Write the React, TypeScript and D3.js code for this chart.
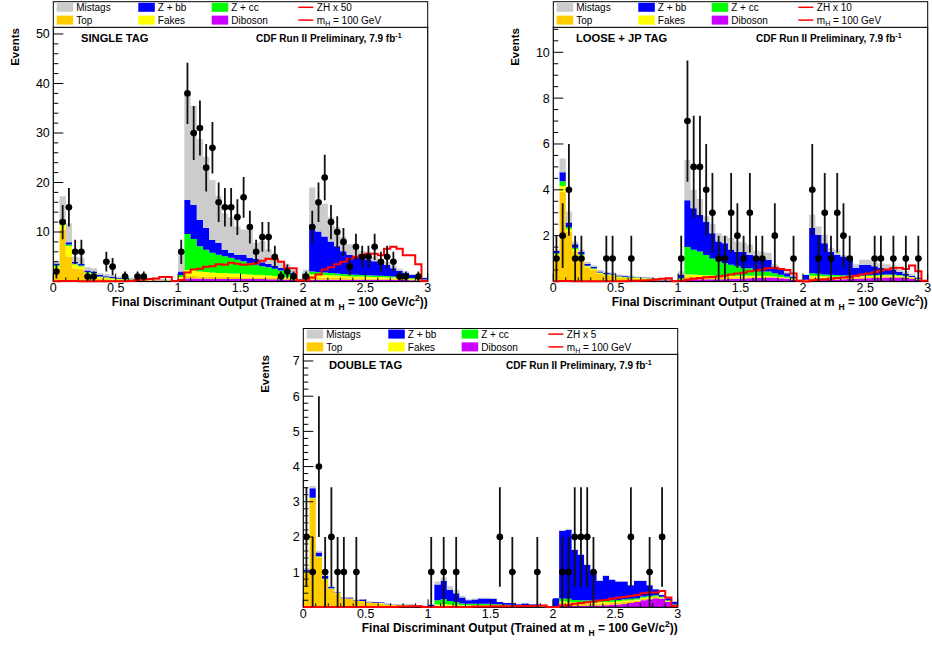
import React from "react";
import * as d3 from "d3";

const FONT = "'Liberation Sans', Arial, Helvetica, sans-serif";

// 60 bins of width 0.05 across the discriminant output 0-3
const N_BINS = 60;
const X_DOMAIN: [number, number] = [0, 3];
const X_MAJOR_TICKS = [0, 0.5, 1, 1.5, 2, 2.5, 3];
const X_TICK_LABELS = ["0", "0.5", "1", "1.5", "2", "2.5", "3"];

// Stack order, bottom to top
const PROCESSES = ["Diboson", "Top", "Fakes", "Z + cc", "Z + bb", "Mistags"];
const PROCESS_COLORS = ["#cc00ff", "#ffcc00", "#ffff00", "#00ff00", "#0000ff", "#cccccc"];
const SIGNAL_COLOR = "#ff0000";

// ---------------- SINGLE TAG ----------------
const singleDiboson = [
  0.05, 0.05, 0.05, 0.05, 0.05, 0.05, 0.05, 0.05, 0.05, 0.05, 0.05, 0.05, 0.08, 0.1, 0.12, 0.15, 0.2, 0.2, 0.15, 0.05,
  0.3, 0.6, 0.6, 0.55, 0.55, 0.5, 0.5, 0.5, 0.5, 0.5, 0.5, 0.5, 0.5, 0.5, 0.45, 0.45, 0.4, 0.4, 0.3, 0.1,
  0.2, 0.35, 0.35, 0.35, 0.35, 0.35, 0.35, 0.35, 0.35, 0.35, 0.35, 0.35, 0.35, 0.35, 0.35, 0.3, 0.3, 0.25, 0.2, 0.15,
];
const singleTop = [
  2.5, 10.4, 5.0, 2.6, 2.4, 1.3, 1.1, 0.55, 0.45, 0.35, 0.25, 0.2, 0.15, 0.12, 0.1, 0.08, 0.05, 0.05, 0.04, 0.02,
  0.3, 0.5, 0.5, 0.45, 0.45, 0.4, 0.4, 0.4, 0.4, 0.4, 0.3, 0.3, 0.3, 0.3, 0.25, 0.25, 0.2, 0.2, 0.2, 0.05,
  0.15, 0.45, 0.45, 0.4, 0.4, 0.35, 0.35, 0.3, 0.3, 0.3, 0.25, 0.25, 0.25, 0.25, 0.2, 0.2, 0.15, 0.15, 0.15, 0.1,
];
const singleFakes = [
  0.5, 1.0, 2.1, 0.8, 0.6, 0.4, 0.4, 0.3, 0.25, 0.22, 0.2, 0.18, 0.15, 0.12, 0.1, 0.1, 0.08, 0.07, 0.06, 0.02,
  0.3, 1.2, 1.2, 1.0, 0.9, 0.9, 0.8, 0.8, 0.7, 0.7, 0.7, 0.6, 0.5, 0.5, 0.5, 0.4, 0.4, 0.3, 0.2, 0.05,
  0.1, 0.6, 0.55, 0.55, 0.5, 0.5, 0.4, 0.4, 0.35, 0.35, 0.35, 0.3, 0.3, 0.25, 0.25, 0.2, 0.15, 0.15, 0.15, 0.1,
];
const singleZcc = [
  0.3, 0.4, 0.3, 0.2, 0.2, 0.15, 0.15, 0.1, 0.1, 0.1, 0.08, 0.07, 0.07, 0.06, 0.05, 0.05, 0.04, 0.04, 0.03, 0.01,
  0.4, 7.3, 6.3, 5.1, 4.5, 4.0, 3.7, 3.4, 3.2, 2.8, 2.6, 2.3, 2.1, 1.8, 1.7, 1.5, 1.2, 0.8, 0.6, 0.15,
  0.15, 0.6, 0.55, 0.5, 0.45, 0.4, 0.4, 0.35, 0.35, 0.3, 0.3, 0.3, 0.25, 0.25, 0.2, 0.2, 0.2, 0.15, 0.1, 0.05,
];
const singleZbb = [
  0.3, 0.6, 0.5, 0.3, 0.3, 0.3, 0.3, 0.3, 0.2, 0.2, 0.15, 0.15, 0.12, 0.1, 0.08, 0.07, 0.05, 0.05, 0.04, 0.02,
  0.7, 6.9, 6.9, 5.3, 4.4, 2.6, 2.4, 1.3, 1.0, 1.0, 1.3, 1.1, 1.2, 0.8, 0.7, 0.6, 0.6, 0.5, 0.4, 0.1,
  0.7, 9.5, 8.2, 7.3, 6.4, 5.5, 4.6, 4.0, 3.75, 3.4, 3.15, 2.9, 2.55, 2.3, 1.7, 1.2, 0.9, 0.6, 0.4, 0.3,
];
const singleMistags = [
  0.55, 4.75, 3.75, 1.05, 1.25, 0.7, 0.7, 0.4, 0.45, 0.38, 0.27, 0.25, 0.23, 0.2, 0.15, 0.15, 0.08, 0.09, 0.08, 0.03,
  3.5, 21.2, 20.0, 16.4, 14.4, 12.1, 9.4, 7.4, 7.2, 5.7, 5.1, 5.6, 3.2, 4.3, 2.9, 2.3, 1.4, 1.4, 0.7, 0.15,
  1.1, 7.5, 5.9, 6.6, 4.9, 3.9, 2.9, 2.1, 1.4, 1.5, 1.6, 0.9, 0.8, 0.6, 0.5, 0.5, 0.3, 0.2, 0.2, 0.1,
];
const singleSignal = [
  0.05, 0.1, 0.1, 0.08, 0.05, 0.05, 0.05, 0.05, 0.05, 0.05, 0.05, 0.05, 0.1, 0.3, 0.4, 0.5, 0.6, 0.9, 0.9, 0.1,
  0.3, 1.8, 2.4, 2.6, 3.0, 3.1, 3.5, 3.4, 3.8, 3.6, 3.4, 3.5, 3.7, 4.2, 4.6, 4.5, 4.0, 2.7, 2.7, 0.2,
  0.2, 0.8, 1.4, 2.4, 2.9, 3.5, 4.0, 4.6, 5.0, 5.3, 5.6, 5.6, 5.3, 6.6, 7.0, 6.6, 5.3, 5.3, 3.5, 0.1,
];
const singleData = [
  2, 12, 15, 6, 6, 1, 1, 0, 4, 3, 0, 1, 0, 1, 1, 0, 0, 0, 0, 0,
  6, 38, 30, 31, 23, 27, 16, 15, 15, 13, 17, 11, 6, 9, 9, 5, 1, 2, 1, 0,
  1, 11, 16, 21, 12, 10, 8, 3, 7, 5, 5, 7, 4, 5, 4, 1, 1, 0, 1, 0,
];
const singleYTicks = [10, 20, 30, 40, 50];

// ---------------- LOOSE + JP TAG ----------------
const looseDiboson = [
  0.01, 0.02, 0.02, 0.01, 0.01, 0.01, 0.01, 0.01, 0.01, 0.01, 0.01, 0.01, 0.02, 0.03, 0.04, 0.05, 0.06, 0.06, 0.05, 0.02,
  0.04, 0.1, 0.1, 0.1, 0.1, 0.1, 0.1, 0.1, 0.11, 0.12, 0.13, 0.14, 0.15, 0.16, 0.17, 0.16, 0.14, 0.12, 0.08, 0.02,
  0.03, 0.07, 0.07, 0.08, 0.08, 0.09, 0.1, 0.11, 0.12, 0.13, 0.14, 0.15, 0.16, 0.17, 0.17, 0.17, 0.15, 0.12, 0.07, 0.02,
];
const looseTop = [
  1.1, 3.9, 2.15, 1.3, 1.05, 0.6, 0.5, 0.33, 0.27, 0.25, 0.18, 0.16, 0.13, 0.1, 0.08, 0.06, 0.04, 0.04, 0.03, 0.01,
  0.03, 0.1, 0.1, 0.09, 0.09, 0.09, 0.08, 0.08, 0.07, 0.06, 0.05, 0.04, 0.04, 0.04, 0.03, 0.03, 0.03, 0.02, 0.02, 0.01,
  0.02, 0.11, 0.1, 0.09, 0.09, 0.08, 0.07, 0.07, 0.06, 0.06, 0.06, 0.06, 0.06, 0.06, 0.06, 0.05, 0.05, 0.04, 0.02, 0.01,
];
const looseFakes = [
  0.08, 0.25, 0.12, 0.1, 0.08, 0.05, 0.04, 0.03, 0.03, 0.03, 0.02, 0.02, 0.02, 0.02, 0.02, 0.02, 0.01, 0.01, 0.01, 0,
  0.03, 0.1, 0.1, 0.09, 0.08, 0.07, 0.07, 0.07, 0.07, 0.07, 0.07, 0.07, 0.06, 0.05, 0.04, 0.03, 0.03, 0.02, 0.02, 0.01,
  0.01, 0.07, 0.07, 0.06, 0.05, 0.05, 0.05, 0.04, 0.04, 0.04, 0.04, 0.04, 0.04, 0.04, 0.04, 0.03, 0.02, 0.02, 0.01, 0,
];
const looseZcc = [
  0.04, 0.2, 0.08, 0.06, 0.05, 0.03, 0.03, 0.02, 0.02, 0.02, 0.02, 0.02, 0.02, 0.02, 0.01, 0.01, 0.01, 0.01, 0.01, 0,
  0.05, 1.2, 1.08, 1.03, 0.89, 0.74, 0.62, 0.55, 0.48, 0.41, 0.33, 0.33, 0.25, 0.19, 0.2, 0.14, 0.09, 0.06, 0.03, 0.01,
  0.02, 0.11, 0.1, 0.07, 0.07, 0.06, 0.05, 0.04, 0.03, 0.03, 0.03, 0.03, 0.03, 0.03, 0.03, 0.03, 0.03, 0.02, 0.02, 0.01,
];
const looseZbb = [
  0.1, 0.4, 0.2, 0.15, 0.11, 0.07, 0.06, 0.05, 0.04, 0.04, 0.03, 0.03, 0.03, 0.02, 0.02, 0.02, 0.01, 0.01, 0.01, 0.01,
  0.15, 2.05, 1.82, 1.59, 1.44, 1.1, 0.88, 0.87, 0.67, 0.64, 0.72, 0.58, 0.6, 0.56, 0.51, 0.24, 0.21, 0.14, 0.07, 0.02,
  0.2, 1.97, 1.7, 1.37, 1.01, 0.88, 0.82, 0.76, 0.35, 0.47, 0.46, 0.38, 0.31, 0.25, 0.2, 0.14, 0.08, 0.05, 0.03, 0.02,
];
const looseMistags = [
  0.07, 0.6, 0.48, 0.13, 0.1, 0.09, 0.06, 0.06, 0.05, 0.05, 0.04, 0.04, 0.03, 0.03, 0.03, 0.02, 0.02, 0.02, 0.01, 0.01,
  0.15, 1.75, 0.8, 0.7, 0.25, 0.4, 0.35, 0.33, 0.5, 0.45, 0.4, 0.44, 0.25, 0.3, 0.3, 0.15, 0.1, 0.09, 0.03, 0.03,
  0.02, 0.58, 0.36, 0.37, 0.16, 0.22, 0.07, 0.07, 0.15, 0.22, 0.22, 0.21, 0.2, 0.2, 0.2, 0.18, 0.12, 0.1, 0.05, 0.02,
];
const looseSignal = [
  0.01, 0.02, 0.02, 0.01, 0.01, 0.01, 0.01, 0.01, 0.01, 0.01, 0.01, 0.01, 0.02, 0.03, 0.04, 0.06, 0.09, 0.12, 0.14, 0.01,
  0.03, 0.08, 0.12, 0.15, 0.18, 0.2, 0.22, 0.25, 0.3, 0.35, 0.38, 0.45, 0.48, 0.52, 0.58, 0.6, 0.55, 0.5, 0.35, 0.03,
  0, 0.05, 0.08, 0.1, 0.12, 0.15, 0.17, 0.2, 0.25, 0.3, 0.35, 0.4, 0.48, 0.52, 0.58, 0.6, 0.55, 0.7, 0.45, 0.03,
];
const looseData = [
  1, 2, 4, 1, 1, 0, 0, 0, 1, 1, 0, 0, 1, 0, 0, 0, 0, 0, 0, 0,
  1, 7, 5, 5, 4, 3, 1, 1, 3, 2, 1, 3, 1, 1, 0, 2, 0, 0, 1, 0,
  0, 4, 1, 3, 1, 3, 2, 1, 0, 0, 0, 1, 1, 0, 1, 0, 1, 0, 1, 0,
];
const looseYTicks = [2, 4, 6, 8, 10];

// ---------------- DOUBLE TAG ----------------
const doubleDiboson = [
  0, 0, 0, 0, 0, 0, 0, 0, 0, 0, 0, 0, 0.01, 0.01, 0.01, 0.02, 0.02, 0.02, 0.02, 0.01,
  0.01, 0.02, 0.02, 0.02, 0.02, 0.02, 0.02, 0.02, 0.02, 0.02, 0.02, 0.02, 0.02, 0.02, 0.02, 0.02, 0.02, 0.02, 0.01, 0,
  0.01, 0.04, 0.04, 0.04, 0.04, 0.05, 0.05, 0.05, 0.06, 0.07, 0.08, 0.1, 0.12, 0.15, 0.2, 0.23, 0.26, 0.24, 0.15, 0.05,
];
const doubleTop = [
  1.0, 3.08, 1.42, 0.79, 0.52, 0.4, 0.25, 0.24, 0.18, 0.17, 0.13, 0.12, 0.1, 0.07, 0.05, 0.04, 0.04, 0.03, 0.02, 0.01,
  0.01, 0.03, 0.03, 0.03, 0.02, 0.02, 0.02, 0.02, 0.02, 0.02, 0.02, 0.02, 0.02, 0.02, 0.01, 0.01, 0.01, 0.01, 0.01, 0,
  0.01, 0.08, 0.07, 0.06, 0.06, 0.05, 0.05, 0.05, 0.05, 0.05, 0.05, 0.05, 0.05, 0.04, 0.04, 0.03, 0.03, 0.02, 0.02, 0.01,
];
const doubleFakes = [
  0.01, 0.02, 0.02, 0.01, 0.01, 0.01, 0.01, 0.01, 0.01, 0.01, 0.01, 0.01, 0.01, 0.01, 0.01, 0.01, 0.01, 0.01, 0.01, 0,
  0.01, 0.03, 0.04, 0.03, 0.03, 0.02, 0.02, 0.02, 0.02, 0.02, 0.02, 0.02, 0.01, 0.01, 0.01, 0.01, 0.01, 0.01, 0.01, 0,
  0.01, 0.05, 0.05, 0.04, 0.04, 0.04, 0.04, 0.04, 0.04, 0.04, 0.04, 0.04, 0.03, 0.03, 0.03, 0.03, 0.02, 0.02, 0.01, 0.01,
];
const doubleZcc = [
  0.01, 0.01, 0.01, 0.01, 0.01, 0, 0, 0, 0, 0, 0, 0, 0, 0, 0, 0, 0, 0, 0, 0,
  0.01, 0.12, 0.14, 0.1, 0.08, 0.05, 0.04, 0.04, 0.04, 0.04, 0.03, 0.03, 0.02, 0.02, 0.02, 0.02, 0.02, 0.01, 0.01, 0,
  0.01, 0.08, 0.08, 0.07, 0.06, 0.06, 0.05, 0.05, 0.05, 0.05, 0.04, 0.04, 0.04, 0.04, 0.04, 0.04, 0.03, 0.02, 0.02, 0.01,
];
const doubleZbb = [
  0.05, 0.27, 0.11, 0.08, 0.04, 0.02, 0.02, 0.03, 0.02, 0.04, 0.02, 0.02, 0.02, 0.01, 0.01, 0.01, 0.01, 0.01, 0.01, 0,
  0.03, 0.45, 0.52, 0.32, 0.25, 0.17, 0.1, 0.12, 0.15, 0.15, 0.15, 0.06, 0.05, 0.05, 0.03, 0.05, 0.03, 0.04, 0.01, 0.01,
  0.22, 1.92, 1.96, 1.42, 1.29, 1.0, 0.81, 0.56, 0.69, 0.57, 0.52, 0.5, 0.39, 0.49, 0.44, 0.3, 0.17, 0.05, 0.06, 0.08,
];
const doubleMistags = [
  0.05, 0.07, 0.05, 0.05, 0.03, 0.01, 0.01, 0.01, 0.01, 0.01, 0.01, 0.01, 0.01, 0.01, 0, 0, 0, 0, 0, 0,
  0, 0.08, 0.1, 0.1, 0.1, 0.05, 0.03, 0.03, 0.02, 0.02, 0.02, 0.01, 0.01, 0.01, 0.01, 0.01, 0.01, 0.01, 0, 0,
  0, 0.03, 0.03, 0.02, 0.02, 0.02, 0.02, 0.02, 0.02, 0.02, 0.02, 0.02, 0.01, 0.01, 0.01, 0.01, 0.01, 0.01, 0.01, 0,
];
const doubleSignal = [
  0.01, 0.01, 0.01, 0.01, 0.01, 0.01, 0.01, 0.01, 0.01, 0.01, 0.01, 0.01, 0.01, 0.01, 0.01, 0.02, 0.02, 0.03, 0.03, 0.01,
  0.01, 0.01, 0.01, 0.01, 0.01, 0.01, 0.01, 0.02, 0.02, 0.02, 0.03, 0.03, 0.03, 0.03, 0.04, 0.04, 0.04, 0.04, 0.05, 0.01,
  0.01, 0.05, 0.06, 0.1, 0.12, 0.14, 0.16, 0.19, 0.21, 0.24, 0.27, 0.29, 0.32, 0.35, 0.4, 0.42, 0.42, 0.46, 0.28, 0.04,
];
const doubleData = [
  2, 1, 4, 1, 2, 1, 1, 0, 1, 0, 0, 0, 0, 0, 0, 0, 0, 0, 0, 0,
  1, 0, 1, 0, 1, 0, 0, 0, 0, 0, 0, 2, 0, 1, 0, 0, 0, 1, 0, 0,
  0, 1, 1, 2, 2, 2, 1, 0, 0, 0, 0, 0, 2, 0, 0, 1, 0, 2, 0, 0,
];
const doubleYTicks = [1, 2, 3, 4, 5, 6, 7];

type PanelSpec = {
  id: string;
  title: string;
  titleDx: number;
  signalLabel: string;
  left: number;
  right: number;
  top: number;
  bottom: number;
  legendTop: number;
  xTitleDy: number;
  yMax: number;
  yMinorStep: number;
  yTicks: number[];
  stack: number[][];
  signal: number[];
  data: number[];
};

const PANELS: PanelSpec[] = [
  {
    id: "single", title: "SINGLE TAG", titleDx: 27.7, signalLabel: "ZH x 50",
    left: 53.3, right: 427.7, top: 27.3, bottom: 281.5, legendTop: 1.7, xTitleDy: 24,
    yMax: 51.35, yMinorStep: 2, yTicks: singleYTicks,
    stack: [singleDiboson, singleTop, singleFakes, singleZcc, singleZbb, singleMistags],
    signal: singleSignal, data: singleData,
  },
  {
    id: "loose", title: "LOOSE + JP TAG", titleDx: 22.7, signalLabel: "ZH x 10",
    left: 553.3, right: 927.7, top: 27.3, bottom: 281.5, legendTop: 1.7, xTitleDy: 24,
    yMax: 11.09, yMinorStep: 0.5, yTicks: looseYTicks,
    stack: [looseDiboson, looseTop, looseFakes, looseZcc, looseZbb, looseMistags],
    signal: looseSignal, data: looseData,
  },
  {
    id: "double", title: "DOUBLE TAG", titleDx: 25.7, signalLabel: "ZH x 5",
    left: 303.3, right: 677.7, top: 354.3, bottom: 607.3, legendTop: 328.5, xTitleDy: 24.5,
    yMax: 7.19, yMinorStep: 0.2, yTicks: doubleYTicks,
    stack: [doubleDiboson, doubleTop, doubleFakes, doubleZcc, doubleZbb, doubleMistags],
    signal: doubleSignal, data: doubleData,
  },
];

// Legend layout: filled boxes in three columns, signal lines in the fourth
const LEGEND_ROW1 = [
  { label: "Mistags", color: "#cccccc" },
  { label: "Z + bb", color: "#0000ff" },
  { label: "Z + cc", color: "#00ff00" },
];
const LEGEND_ROW2 = [
  { label: "Top", color: "#ffcc00" },
  { label: "Fakes", color: "#ffff00" },
  { label: "Diboson", color: "#cc00ff" },
];
const LEGEND_COL_X = [3.4, 85, 158.4];

function Legend({ p }: { p: PanelSpec }) {
  const w = p.right - p.left;
  const h = p.top - p.legendTop;
  const rowY = [p.legendTop + 5.6, p.legendTop + 18.4];
  const rows = [LEGEND_ROW1, LEGEND_ROW2];
  return (
    <g fontFamily={FONT} fontSize={10}>
      <rect x={p.left} y={p.legendTop} width={w} height={h} fill="#fff" stroke="#000" strokeWidth={1} />
      {rows.map((row, r) =>
        row.map((e, c) => (
          <g key={`${r}-${c}`}>
            <rect x={p.left + LEGEND_COL_X[c]} y={rowY[r] - 4.5} width={16.5} height={9} fill={e.color} />
            <text x={p.left + LEGEND_COL_X[c] + 19.5} y={rowY[r] + 3.6} fill="#000">
              {e.label}
            </text>
          </g>
        ))
      )}
      {rowY.map((ry, r) => (
        <line key={r} x1={p.left + 245} x2={p.left + 260} y1={ry} y2={ry} stroke={SIGNAL_COLOR} strokeWidth={1.5} />
      ))}
      <text x={p.left + 263.5} y={rowY[0] + 3.6}>{p.signalLabel}</text>
      <text x={p.left + 263.5} y={rowY[1] + 3.6}>
        m<tspan dy={2.5} fontSize={7}>H</tspan>
        <tspan dy={-2.5}> = 100 GeV</tspan>
      </text>
    </g>
  );
}

function Panel({ p }: { p: PanelSpec }) {
  const x = d3.scaleLinear().domain(X_DOMAIN).range([p.left, p.right]);
  const y = d3.scaleLinear().domain([0, p.yMax]).range([p.bottom, p.top]);
  const binW = (X_DOMAIN[1] - X_DOMAIN[0]) / N_BINS;
  const edges = d3.range(N_BINS + 1).map((i) => X_DOMAIN[0] + i * binW);

  const rows = d3.range(N_BINS).map((i) => {
    const r: Record<string, number> = {};
    PROCESSES.forEach((k, j) => (r[k] = p.stack[j][i]));
    return r;
  });
  const series = d3.stack<Record<string, number>>().keys(PROCESSES)(rows);

  const area = d3
    .area<number[]>()
    .x((d) => x(d[0]))
    .y0((d) => y(d[1]))
    .y1((d) => y(d[2]))
    .curve(d3.curveStepAfter);

  const line = d3
    .line<number[]>()
    .x((d) => x(d[0]))
    .y((d) => y(d[1]))
    .curve(d3.curveStepAfter);

  const sigPts: number[][] = [[X_DOMAIN[0], 0]];
  p.signal.forEach((v, i) => sigPts.push([edges[i], v]));
  sigPts.push([X_DOMAIN[1], p.signal[N_BINS - 1]]);
  sigPts.push([X_DOMAIN[1], 0]);

  const yMinor = d3.range(0, p.yMax + 1e-9, p.yMinorStep);
  const xMinor = d3.range(0, 3.0001, 0.1);
  const clipId = `clip-${p.id}`;

  return (
    <g>
      <defs>
        <clipPath id={clipId}>
          <rect x={p.left} y={p.top} width={p.right - p.left} height={p.bottom - p.top + 2} />
        </clipPath>
      </defs>
      <rect x={p.left} y={p.top} width={p.right - p.left} height={p.bottom - p.top} fill="#fff" />

      {/* stacked backgrounds */}
      <g clipPath={`url(#${clipId})`}>
        {series.map((s, j) => {
          const pts = s.map((v, i) => [edges[i], v[0], v[1]]);
          pts.push([edges[N_BINS], s[N_BINS - 1][0], s[N_BINS - 1][1]]);
          return <path key={j} d={area(pts) || ""} fill={PROCESS_COLORS[j]} stroke="none" />;
        })}
      </g>

      {/* axis ticks */}
      <g stroke="#000" strokeWidth={1}>
        {yMinor.map((v, i) => {
          const major = p.yTicks.includes(Math.round(v * 100) / 100) || Math.abs(v) < 1e-9;
          return <line key={`ym${i}`} x1={p.left} x2={p.left + (major ? 10 : 5)} y1={y(v)} y2={y(v)} />;
        })}
        {xMinor.map((v, i) => {
          const major = X_MAJOR_TICKS.some((t) => Math.abs(t - v) < 1e-6);
          return <line key={`xm${i}`} x1={x(v)} x2={x(v)} y1={p.bottom} y2={p.bottom - (major ? 8 : 4)} />;
        })}
      </g>
      <rect x={p.left} y={p.top} width={p.right - p.left} height={p.bottom - p.top} fill="none" stroke="#000" strokeWidth={1.2} />

      {/* signal */}
      <g clipPath={`url(#${clipId})`}>
        <path d={line(sigPts) || ""} fill="none" stroke={SIGNAL_COLOR} strokeWidth={2} />
      </g>

      {/* data */}
      <g clipPath={`url(#${clipId})`}>
        {p.data.map((n, i) => {
          if (n <= 0) return null;
          const cx = x(edges[i] + binW / 2);
          const err = Math.sqrt(n);
          return (
            <g key={i}>
              <line x1={cx} x2={cx} y1={y(n - err)} y2={y(n + err)} stroke="#111" strokeWidth={1.8} />
              <line x1={x(edges[i])} x2={x(edges[i + 1])} y1={y(n)} y2={y(n)} stroke="#111" strokeWidth={1.8} />
              <circle cx={cx} cy={y(n)} r={3.3} fill="#000" />
            </g>
          );
        })}
      </g>

      {/* tick labels */}
      <g fontFamily={FONT} fontSize={12.5} fill="#000">
        {X_MAJOR_TICKS.map((t, i) => (
          <text key={`xl${i}`} x={x(t)} y={p.bottom + 10.5} textAnchor="middle">
            {X_TICK_LABELS[i]}
          </text>
        ))}
        {p.yTicks.map((t) => (
          <text key={`yl${t}`} x={p.left - 3.5} y={y(t) + 4.4} textAnchor="end">
            {t}
          </text>
        ))}
      </g>

      {/* titles */}
      <text x={p.left + p.titleDx} y={p.top + 14.7} fontFamily={FONT} fontWeight="bold" fontSize={11.2}>
        {p.title}
      </text>
      <text x={p.left + 202.7} y={p.top + 14.5} fontFamily={FONT} fontWeight="bold" fontSize={10}>
        CDF Run II Preliminary, 7.9 fb<tspan dy={-4} fontSize={7}>-1</tspan>
      </text>
      <text
        transform={`translate(${p.left - 34},${p.top + 0.8}) rotate(-90)`}
        textAnchor="end"
        fontFamily={FONT}
        fontWeight="bold"
        fontSize={11.5}
      >
        Events
      </text>
      <text x={p.right} y={p.bottom + p.xTitleDy} textAnchor="end" fontFamily={FONT} fontWeight="bold" fontSize={11.9}>
        Final Discriminant Output (Trained at m
        <tspan dx={4} dy={4} fontSize={8.5}>H</tspan>
        <tspan dy={-4}> = 100 GeV/c</tspan>
        <tspan dy={-4.5} fontSize={8.5}>2</tspan>
        <tspan dy={4.5}>))</tspan>
      </text>

      <Legend p={p} />
    </g>
  );
}

export default function App() {
  return (
    <svg
      width={932}
      height={645}
      viewBox="0 0 932 645"
      style={{ position: "absolute", left: 0, top: 0, background: "#fff" }}
    >
      <rect x={0} y={0} width={932} height={645} fill="#fff" />
      {PANELS.map((p) => (
        <Panel key={p.id} p={p} />
      ))}
    </svg>
  );
}
